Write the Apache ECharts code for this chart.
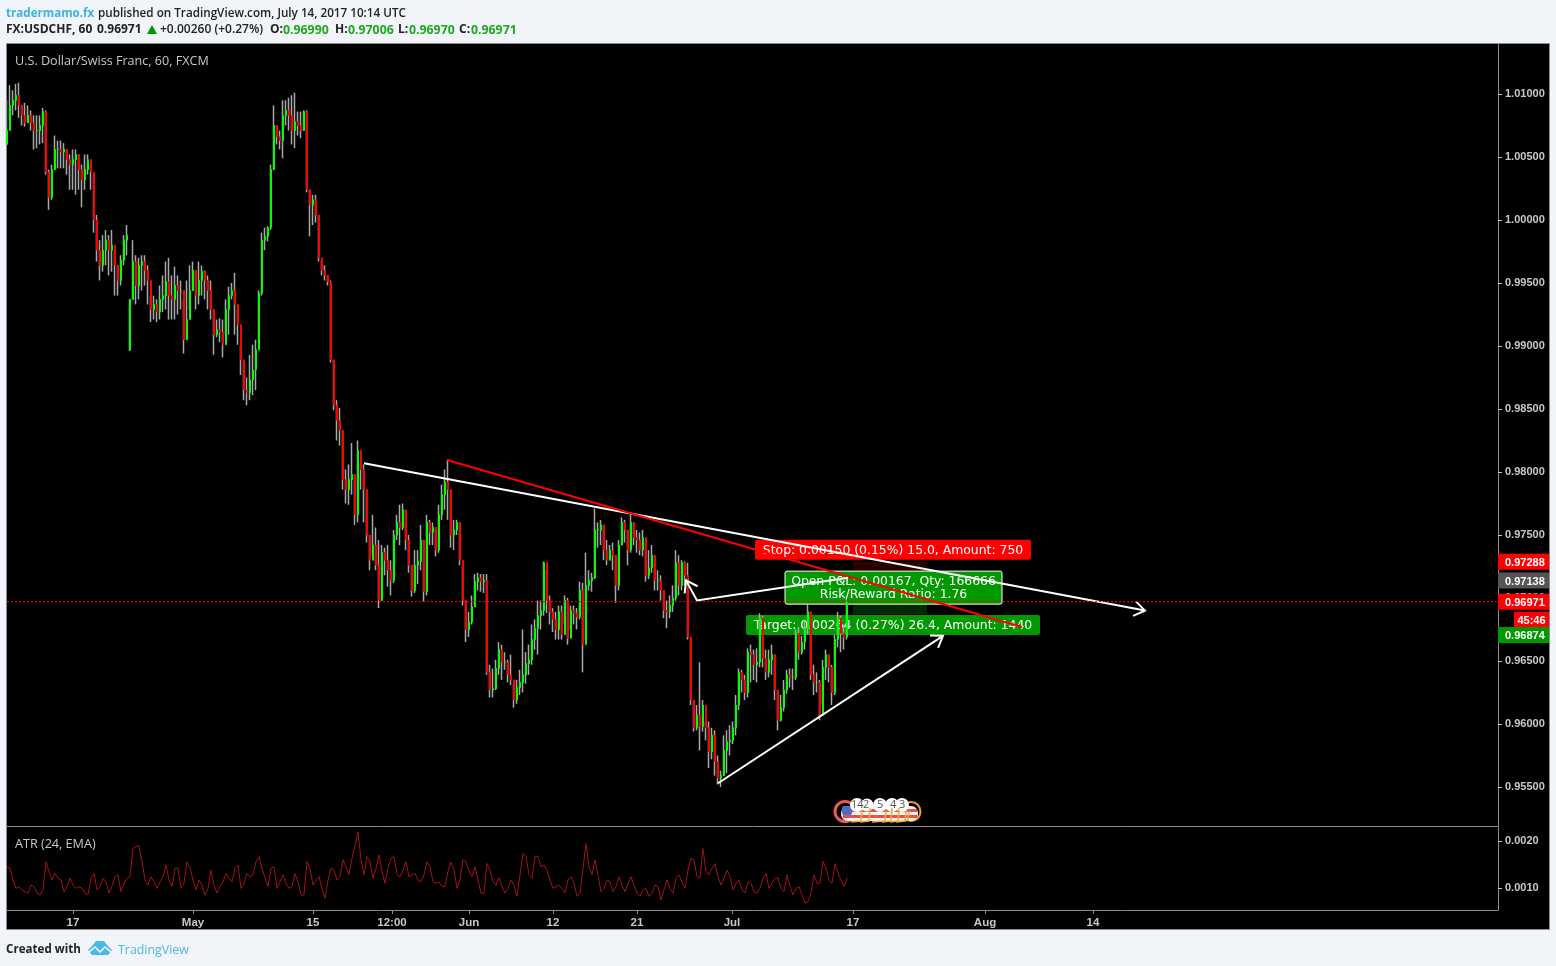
<!DOCTYPE html>
<html><head><meta charset="utf-8">
<style>html,body{margin:0;padding:0;background:#f1f4f8}#c{width:1556px;height:966px}</style>
<script src="https://cdn.jsdelivr.net/npm/echarts@6/dist/echarts.min.js"></script>
</head><body><div id="c"></div>
<script>
// Prices in units of 0.0001, ATR in units of 0.00001. One sample per group of hourly bars.
const opens=[10060,10071,10091,10095,10099,10091,10083,10077,10083,10077,10071,10071,10075,10086,10038,10018,10040,10056,10056,10054,10056,10048,10044,10048,10052,10040,10032,10040,10048,10038,10000,9976,9964,9976,9984,9976,9980,9964,9952,9968,9984,9897,9937,9967,9948,9964,9967,9960,9952,9929,9933,9927,9937,9940,9951,9940,9937,9948,9944,9944,9905,9921,9944,9960,9940,9952,9959,9952,9944,9929,9909,9913,9911,9901,9929,9940,9944,9933,9917,9889,9865,9863,9873,9881,9897,9942,9984,9987,9994,10040,10075,10066,10063,10083,10087,10083,10071,10078,10075,10071,10086,10024,10012,10016,10004,9970,9960,9956,9951,9889,9853,9841,9833,9794,9786,9794,9798,9766,9817,9802,9786,9750,9730,9742,9726,9698,9736,9730,9722,9714,9750,9760,9756,9770,9746,9726,9706,9726,9729,9746,9705,9760,9752,9756,9738,9766,9782,9792,9786,9750,9754,9760,9730,9698,9675,9681,9693,9713,9716,9713,9714,9641,9627,9628,9644,9659,9649,9649,9639,9635,9619,9629,9633,9639,9648,9651,9667,9676,9686,9690,9728,9698,9689,9683,9675,9689,9671,9698,9668,9690,9688,9685,9706,9663,9710,9714,9716,9754,9754,9758,9738,9730,9738,9734,9710,9742,9760,9754,9738,9760,9748,9746,9738,9748,9718,9724,9734,9714,9714,9706,9690,9689,9694,9700,9728,9710,9728,9718,9669,9619,9597,9607,9598,9615,9597,9578,9591,9570,9557,9559,9579,9586,9587,9597,9615,9641,9635,9625,9657,9655,9647,9649,9684,9652,9641,9651,9655,9627,9603,9613,9627,9639,9637,9637,9672,9657,9665,9676,9689,9639,9633,9633,9607,9645,9655,9645,9625,9667,9684,9672,9669];
const closes=[10071,10091,10095,10099,10091,10083,10077,10083,10077,10071,10071,10075,10086,10038,10018,10040,10056,10056,10054,10056,10048,10044,10048,10052,10040,10032,10040,10048,10038,10000,9976,9964,9976,9984,9976,9980,9964,9952,9968,9984,9988,9937,9967,9948,9964,9967,9960,9952,9929,9933,9927,9937,9940,9951,9940,9937,9948,9944,9944,9905,9921,9944,9960,9940,9952,9959,9952,9944,9929,9909,9913,9911,9901,9929,9940,9944,9933,9917,9889,9865,9863,9873,9881,9897,9942,9984,9987,9994,10040,10075,10066,10063,10083,10087,10083,10071,10078,10075,10071,10086,10024,10012,10016,10004,9970,9960,9956,9951,9889,9853,9841,9833,9794,9786,9794,9798,9766,9817,9802,9786,9750,9730,9742,9726,9698,9736,9730,9722,9714,9750,9760,9756,9770,9746,9726,9706,9726,9729,9746,9705,9760,9752,9756,9738,9766,9782,9792,9786,9750,9754,9760,9730,9698,9675,9681,9693,9713,9716,9713,9714,9641,9627,9628,9644,9659,9649,9649,9639,9635,9619,9629,9633,9639,9648,9651,9667,9676,9686,9690,9728,9698,9689,9683,9675,9689,9671,9698,9668,9690,9688,9685,9706,9663,9710,9714,9716,9754,9754,9758,9738,9730,9738,9734,9710,9742,9760,9754,9738,9760,9748,9746,9738,9748,9718,9724,9734,9714,9714,9706,9690,9689,9694,9700,9728,9710,9728,9718,9669,9619,9597,9607,9598,9615,9597,9578,9591,9570,9557,9559,9579,9586,9587,9597,9615,9641,9635,9625,9657,9655,9647,9649,9684,9652,9641,9651,9655,9627,9603,9613,9627,9639,9637,9637,9672,9657,9665,9676,9689,9639,9633,9633,9607,9645,9655,9645,9625,9667,9684,9672,9669,9697];
const highs=[10095,10107,10103,10108,10109,10091,10093,10091,10087,10083,10083,10083,10089,10087,10040,10044,10067,10063,10063,10061,10056,10052,10056,10056,10052,10044,10052,10052,10044,10036,10004,9984,9988,9992,9988,9992,9976,9964,9972,9988,9996,9937,9984,9972,9970,9972,9972,9964,9940,9940,9937,9948,9956,9967,9970,9956,9963,9956,9952,9937,9952,9964,9967,9960,9967,9964,9960,9956,9952,9929,9921,9922,9921,9937,9947,9950,9958,9929,9901,9889,9875,9893,9901,9905,9944,9990,9994,9995,10044,10091,10075,10071,10095,10095,10097,10099,10101,10086,10086,10087,10087,10024,10020,10020,10004,9968,9964,9956,9952,9889,9857,9851,9833,9802,9806,9823,9798,9825,9807,9806,9786,9750,9766,9756,9746,9742,9740,9742,9730,9754,9766,9774,9775,9770,9750,9726,9738,9738,9758,9746,9766,9762,9760,9756,9774,9790,9802,9810,9786,9762,9762,9760,9726,9698,9689,9702,9719,9720,9719,9719,9719,9647,9644,9651,9665,9663,9657,9651,9655,9631,9635,9643,9675,9657,9663,9679,9683,9698,9698,9729,9722,9702,9692,9689,9694,9694,9702,9700,9694,9694,9692,9713,9712,9736,9722,9720,9771,9760,9762,9758,9746,9742,9744,9734,9746,9764,9762,9754,9766,9760,9754,9752,9754,9746,9738,9742,9734,9722,9718,9706,9698,9702,9710,9738,9734,9730,9729,9728,9669,9619,9615,9649,9619,9602,9602,9597,9595,9575,9563,9591,9595,9599,9602,9623,9644,9643,9639,9660,9663,9659,9660,9688,9686,9659,9659,9663,9655,9627,9623,9635,9643,9644,9644,9675,9677,9670,9683,9696,9689,9647,9641,9635,9651,9659,9655,9647,9671,9689,9686,9679,9698];
const lows=[10061,10079,10083,10087,10081,10075,10074,10078,10071,10056,10057,10060,10061,10036,10008,10016,10040,10041,10041,10041,10036,10024,10024,10020,10024,10010,10024,10036,10024,9990,9967,9952,9959,9964,9956,9959,9940,9940,9948,9964,9972,9896,9937,9933,9937,9944,9948,9933,9919,9921,9919,9921,9927,9929,9921,9921,9921,9925,9929,9894,9905,9929,9944,9929,9933,9940,9937,9929,9921,9893,9907,9903,9891,9909,9909,9937,9909,9901,9877,9857,9853,9857,9861,9865,9903,9940,9976,9983,9992,10040,10060,10056,10049,10075,10071,10060,10057,10067,10065,10071,10022,9987,9996,9998,9967,9956,9952,9948,9887,9849,9825,9821,9786,9775,9774,9782,9758,9760,9786,9760,9744,9722,9734,9722,9692,9698,9718,9709,9702,9712,9746,9742,9754,9738,9720,9701,9704,9711,9722,9697,9702,9742,9742,9733,9736,9762,9770,9762,9740,9738,9750,9726,9694,9665,9669,9679,9694,9706,9705,9704,9639,9621,9621,9627,9639,9635,9643,9633,9631,9613,9616,9623,9625,9632,9639,9647,9659,9655,9675,9686,9688,9679,9673,9667,9667,9667,9679,9663,9675,9679,9675,9683,9641,9667,9706,9705,9715,9740,9742,9730,9726,9730,9722,9696,9706,9742,9744,9726,9736,9742,9736,9734,9733,9713,9715,9720,9706,9706,9698,9684,9676,9684,9689,9698,9702,9706,9710,9667,9615,9594,9595,9579,9594,9587,9565,9572,9559,9552,9550,9559,9561,9575,9584,9591,9611,9625,9619,9621,9633,9635,9633,9645,9645,9635,9637,9639,9619,9595,9602,9610,9624,9629,9627,9635,9651,9655,9659,9671,9635,9623,9625,9603,9615,9635,9633,9615,9623,9661,9657,9659,9667];
const atr=[145,142,117,99,103,96,92,89,106,103,89,85,96,156,135,117,131,121,117,92,103,121,106,99,103,99,89,85,121,131,96,103,121,113,89,103,124,128,92,110,121,124,184,188,190,156,117,106,124,113,99,113,124,149,117,103,142,142,99,110,156,142,117,96,117,106,85,99,138,106,89,103,113,131,121,113,142,149,99,110,131,124,128,156,167,142,121,103,142,145,99,113,128,110,99,103,131,113,85,85,156,142,106,117,124,99,78,117,142,138,117,124,160,145,128,163,191,220,160,128,167,156,121,142,170,135,110,142,163,167,128,124,138,156,124,128,131,117,113,128,156,145,113,110,113,
103,103,135,155,138,99,117,160,156,135,124,145,117,89,89,152,138,113,106,122,103,89,99,117,106,82,128,174,167,128,121,167,167,145,149,138,117,99,103,106,99,89,117,124,110,82,89,142,195,145,128,160,128,92,99,117,113,92,103,124,106,92,110,124,106,89,82,96,99,82,89,106,103,74,96,117,99,89,121,128,113,99,138,163,160,124,121,184,135,128,142,152,124,106,121,138,124,96,110,117,96,89,113,110,92,89,99,121,131,99,110,121,121,99,92,128,103,85,99,103,85,67,71,89,128,110,110,157,142,117,110,152,131,117,103,121];
const priceTicks=[0.955,0.96,0.965,0.97,0.975,0.98,0.985,0.99,0.995,1,1.005,1.01];
const atrTicks=[0.001,0.002];
const timeTicks=[22,62,102,128.33,154,182,210,241.67,282,326,362];
const timeLabels=['17','May','15','12:00','Jun','12','21','Jul','17','Aug','14'];
const trendWhite=[[119,0.9807],[379.33,0.9690]];
const trendRed=[[146.67,0.98095],[338.33,0.9677]];
const arrowUp=[[237,0.9553],[312,0.9670]];
const arrowPath=[[280.33,0.9716],[230,0.9698],[226.33,0.9714]];
const tagPrices=[0.97288,0.97138,0.96971,0.96971,0.96874];
const tagTexts=['0.97288','0.97138','0.96971','45:46','0.96874'];
const tagColors=['#ff0000','#555555','#ff0000','#ff0000','#009900'];
const tagShift=[0,0,0,18,21];
const lastPrice=0.96971,stopPrice=0.97288,entryPrice=0.97138,targetPrice=0.96874;
const boxX=[282,306.67];
const labelTexts=['Stop: 0.00150 (0.15%) 15.0, Amount: 750','Open P&L: 0.00167, Qty: 166666\nRisk/Reward Ratio: 1.76','Target: 0.00264 (0.27%) 26.4, Amount: 1440'];
const flagNumbers=['14','2','5','4','3'];

const F='"DejaVu Sans",sans-serif', A='"Liberation Sans",Arial,sans-serif', O='"Open Sans"';
const chart=echarts.init(document.getElementById('c'),null,{renderer:'canvas'});
const ix=closes.map((_,i)=>i);
const wicks=ix.map(i=>[i,opens[i]/1e4,closes[i]/1e4,lows[i]/1e4,highs[i]/1e4]);
const bodies=ix.map(i=>{const o=opens[i]/1e4,c=closes[i]/1e4;return [i,o,c,Math.min(o,c),Math.max(o,c)];});
const one=[[0,1]];
function arrowShapes(api,pts,color,w,head){
  const p=pts.map(q=>api.coord(q));const ch=[{type:'polyline',shape:{points:p},style:{stroke:color,lineWidth:w,fill:null}}];
  if(head){const a=p[p.length-1],b=p[p.length-2],t=Math.atan2(b[1]-a[1],b[0]-a[0]),L=head;
    ch.push({type:'polyline',shape:{points:[[a[0]+L*Math.cos(t+0.6),a[1]+L*Math.sin(t+0.6)],a,[a[0]+L*Math.cos(t-0.6),a[1]+L*Math.sin(t-0.6)]]},style:{stroke:color,lineWidth:w,fill:null}});}
  return ch;
}
const txt=(s,left,top,fill,font,z)=>({type:'text',z:z||100,silent:true,left:left,top:top,style:{text:s,fill:fill,font:font}});
const G='#1ea81e',K='#222',BB='bold 12px '+O,BG='bold 12.3px '+O;
const flagEls=[
  {type:'circle',z:100,silent:true,shape:{cx:845,cy:811.5,r:10},style:{fill:'#000',stroke:'#e85a5a',lineWidth:3}},
  {type:'circle',z:100,silent:true,shape:{cx:911,cy:811.5,r:9.5},style:{fill:'#000',stroke:'#f0a030',lineWidth:2}},
  {type:'rect',z:101,silent:true,shape:{x:841,y:806,width:77,height:15,r:7},style:{fill:'#f4f4f4'}},
  {type:'rect',z:102,silent:true,shape:{x:843,y:809,width:74,height:3},style:{fill:'#e8504a'}},
  {type:'rect',z:102,silent:true,shape:{x:843,y:815,width:74,height:3},style:{fill:'#e8504a'}},
  {type:'rect',z:103,silent:true,shape:{x:842,y:806,width:10,height:9,r:2},style:{fill:'#4a6fc0'}}
];
[[857,7],[867,6.5],[880,7],[892,7],[902,7]].forEach(c=>flagEls.push({type:'circle',z:104,silent:true,shape:{cx:c[0],cy:805,r:c[1]},style:{fill:'#fff'}}));
[[851,822,862,810],[860,822,870,808],[872,822,886,811],[882,822,892,808],[890,822,899,808],[896,822,906,811],[905,821,909,811]].forEach(s=>flagEls.push({type:'polyline',z:105,silent:true,shape:{points:[[s[0],s[1]],[s[2]-1,s[1]-1],[s[2],s[3]]]},style:{stroke:'#f5ab35',lineWidth:1.5,fill:null}}));
[[851,0],[863,1],[877,2],[890,3],[899,4]].forEach(c=>flagEls.push(txt(flagNumbers[c[1]],c[0],799,'#555','11px '+O,106)));

const option={
  animation:false,backgroundColor:'#f1f4f8',
  grid:[{left:7,top:44,width:1491,height:782},{left:7,top:827,width:1491,height:83}],
  xAxis:[
    {type:'value',gridIndex:0,min:0,max:497,splitLine:{show:false},axisLabel:{show:false},axisTick:{show:false},axisLine:{onZero:false,lineStyle:{color:'#8c8c8c'}}},
    {type:'value',gridIndex:1,min:0,max:497,splitLine:{show:false},axisLine:{onZero:false,lineStyle:{color:'#8c8c8c'}},
     axisTick:{customValues:timeTicks,length:4,lineStyle:{color:'#8c8c8c'}},
     axisLabel:{customValues:timeTicks,color:'#c8c8c8',fontFamily:A,fontWeight:'bold',fontSize:11.5,margin:7,formatter:v=>{let k=0,b=1e9;timeTicks.forEach((t,i)=>{if(Math.abs(t-v)<b){b=Math.abs(t-v);k=i;}});return timeLabels[k];}}}
  ],
  yAxis:[
    {type:'value',gridIndex:0,position:'right',min:0.951905,max:1.013968,scale:true,splitLine:{show:false},axisLine:{show:true,onZero:false,lineStyle:{color:'#8c8c8c'}},
     axisTick:{customValues:priceTicks,length:4,lineStyle:{color:'#c8c8c8'}},
     axisLabel:{customValues:priceTicks,color:'#c8c8c8',fontFamily:A,fontWeight:'bold',fontSize:11,margin:7,padding:[3,0,0,0],formatter:v=>v.toFixed(5)}},
    {type:'value',gridIndex:1,position:'right',min:0.00053,max:0.0023,splitLine:{show:false},axisLine:{show:true,onZero:false,lineStyle:{color:'#8c8c8c'}},
     axisTick:{customValues:atrTicks,length:4,lineStyle:{color:'#c8c8c8'}},
     axisLabel:{customValues:atrTicks,color:'#c8c8c8',fontFamily:A,fontWeight:'bold',fontSize:11,margin:7,padding:[3,0,0,0],formatter:v=>v.toFixed(4)}}
  ],
  series:[
    {type:'custom',name:'position',xAxisIndex:0,yAxisIndex:0,z:1,silent:true,data:one,renderItem:(p,api)=>{
      const a=api.coord([boxX[0],stopPrice]),b=api.coord([boxX[1],entryPrice]),c=api.coord([boxX[1],targetPrice]);
      const s=api.coord([(boxX[0]+boxX[1])/2,stopPrice]),t=api.coord([(boxX[0]+boxX[1])/2,targetPrice]),e=api.coord([(boxX[0]+boxX[1])/2,lastPrice]);
      const lab=(tx,x,y,bg,bw,w,h)=>[{type:'rect',shape:{x:x-w/2,y:y-h/2,width:w,height:h,r:2},style:{fill:bg,stroke:bw?'#fff':null,lineWidth:1}},
        {type:'text',style:{text:tx,x:x,y:y+1,align:'center',verticalAlign:'middle',fill:'#fff',font:'12.4px '+F,lineHeight:13}}];
      return {type:'group',children:[
        {type:'rect',shape:{x:a[0],y:a[1],width:b[0]-a[0],height:b[1]-a[1]},style:{fill:'#2a0000'}},
        {type:'rect',shape:{x:a[0],y:b[1],width:b[0]-a[0],height:c[1]-b[1]},style:{fill:'#002a00'}},
        ...lab(labelTexts[0],s[0]+3,s[1]-12,'#ff0000',false,276,20),
        ...lab(labelTexts[1],s[0]+3.5,e[1]-14,'#009900',true,217,33),
        ...lab(labelTexts[2],s[0]+3,t[1]+11,'#009900',false,294,20)
      ]};
    }},
    {type:'candlestick',name:'wicks',xAxisIndex:0,yAxisIndex:0,z:2,barWidth:1,silent:true,data:wicks,
     itemStyle:{color:'#a8a8a8',color0:'#a8a8a8',borderColor:'#a8a8a8',borderColor0:'#a8a8a8',borderColorDoji:'#a8a8a8',borderWidth:1.5}},
    {type:'candlestick',name:'bodies',xAxisIndex:0,yAxisIndex:0,z:3,barWidth:2,silent:true,data:bodies,
     itemStyle:{color:'#00ff00',color0:'#ff0000',borderColor:'#00ff00',borderColor0:'#ff0000',borderColorDoji:'#00ff00',borderWidth:1}},
    {type:'custom',name:'drawings',xAxisIndex:0,yAxisIndex:0,z:4,silent:true,data:one,renderItem:(p,api)=>({type:'group',children:[
      ...arrowShapes(api,trendWhite,'#ffffff',2,13),
      ...arrowShapes(api,trendRed,'#ff0000',2,0),
      ...arrowShapes(api,arrowUp,'#ffffff',2,13),
      ...arrowShapes(api,arrowPath,'#ffffff',2,13)
    ]})},
    {type:'line',name:'last',xAxisIndex:0,yAxisIndex:0,z:5,silent:true,symbol:'none',data:[[0,lastPrice],[497,lastPrice]],lineStyle:{color:'#ff0000',width:1,type:[2,2]}},
    {type:'custom',name:'tags',xAxisIndex:0,yAxisIndex:0,z:6,silent:true,data:tagTexts.map((_,i)=>[i,1]),renderItem:(p,api)=>{
      const i=p.dataIndex,c=api.coord([497,tagPrices[i]]),y=c[1]+tagShift[i],wide=tagTexts[i].length>5;
      const x0=wide?c[0]:c[0]+16,w=wide?51:35;
      return {type:'group',children:[
        {type:'rect',shape:{x:x0,y:y-8,width:w,height:16},style:{fill:tagColors[i]}},
        {type:'text',style:{text:tagTexts[i],x:wide?x0+7:x0+w/2,y:y+1,align:wide?'left':'center',verticalAlign:'middle',fill:'#fff',font:'bold 11px '+A}}
      ]};
    }},
    {type:'line',name:'ATR',xAxisIndex:1,yAxisIndex:1,symbol:'none',silent:true,data:atr.map((v,i)=>[i,v/1e5]),lineStyle:{color:'#a01218',width:1}}
  ],
  graphic:{elements:[
    {type:'rect',z:-10,silent:true,shape:{x:6.5,y:43.5,width:1543,height:886},style:{fill:'#000',stroke:'#8c8c8c',lineWidth:1}},
    txt('tradermamo.fx',6,8,'#3bb3e4','bold 11.6px '+O),
    txt('published on TradingView.com, July 14, 2017 10:14 UTC',98,8,K,'600 11.7px '+O),
    txt('FX:USDCHF, 60',6,24,K,BB),
    txt('0.96971',97,24,K,BB),
    {type:'polygon',z:100,silent:true,shape:{points:[[147,34],[157,34],[152,25]]},style:{fill:'#009900'}},
    txt('+0.00260 (+0.27%)',160,24,K,'600 12px '+O),
    txt('O:',270,24,K,BB),txt('0.96990',283,24,G,BG),
    txt('H:',335,24,K,BB),txt('0.97006',348,24,G,BG),
    txt('L:',398,24,K,BB),txt('0.96970',409,24,G,BG),
    txt('C:',459,24,K,BB),txt('0.96971',471,24,G,BG),
    txt('U.S. Dollar/Swiss Franc, 60, FXCM',15,55,'#c8c8c8','12.6px '+O),
    txt('ATR (24, EMA)',15,838,'#c8c8c8','12.6px '+O),
    txt('Created with',6,944,K,'bold 11.6px '+O),
    txt('TradingView',118,944,'#4db8e8','12.4px '+O),
    {type:'polygon',z:100,silent:true,shape:{points:[[88,950],[92,946],[96,941],[104,941],[108,946],[112,950],[108,955],[92,955]]},style:{fill:'#4db8e8'}},
    {type:'polyline',z:101,silent:true,shape:{points:[[89,952],[95,947],[100,952],[105,947],[111,952]]},style:{stroke:'#fff',lineWidth:1.5,fill:null}},
    ...flagEls
  ]}
};
chart.setOption(option);
</script></body></html>
